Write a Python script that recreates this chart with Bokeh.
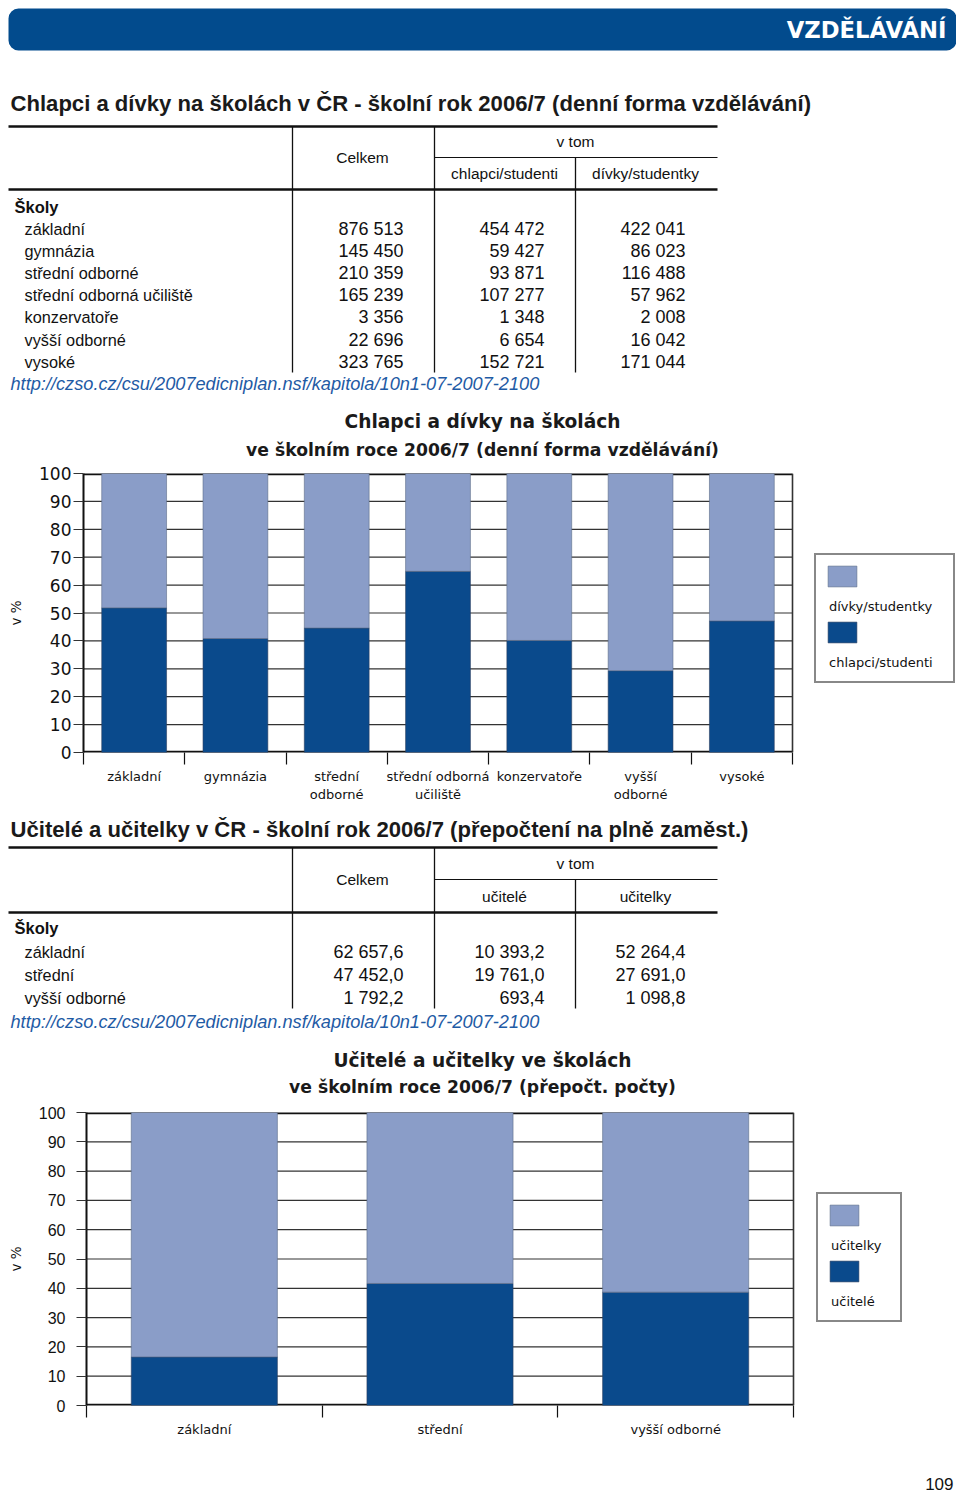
from bokeh.plotting import figure
from bokeh.models import Range1d, FixedTicker, Legend, LegendItem, BoxAnnotation, ColumnDataSource
from bokeh.layouts import column
from bokeh.core.properties import value
from bokeh.embed import file_html
from bokeh.resources import INLINE

# ---------------- data ----------------
schools_students = ["základní", "gymnázia", "střední odborné", "střední odborná učiliště",
                    "konzervatoře", "vyšší odborné", "vysoké"]
students_total = [876513, 145450, 210359, 165239, 3356, 22696, 323765]
students_boys = [454472, 59427, 93871, 107277, 1348, 6654, 152721]
students_girls = [422041, 86023, 116488, 57962, 2008, 16042, 171044]
chart1_labels = ["základní", "gymnázia", "střední\nodborné", "střední odborná\nučiliště",
                 "konzervatoře", "vyšší\nodborné", "vysoké"]

schools_teachers = ["základní", "střední", "vyšší odborné"]
teachers_total = [62657.6, 47452.0, 1792.2]
teachers_men = [10393.2, 19761.0, 693.4]
teachers_women = [52264.4, 27691.0, 1098.8]
chart2_labels = ["základní", "střední", "vyšší odborné"]

y_ticks = [0, 10, 20, 30, 40, 50, 60, 70, 80, 90, 100]

URL = "http://czso.cz/csu/2007edicniplan.nsf/kapitola/10n1-07-2007-2100"

# ---------------- style ----------------
DARK = "#0a4a8c"
LIGHT = "#8a9dc8"
HEADER = "#024b8d"
URLC = "#1f5ba5"
INK = "#111111"
GRIDC = "#333333"
SANS = "Liberation Sans"
DJ = "DejaVu Sans"

W = 956


def fmt_int(v):
    return f"{v:,.0f}".replace(",", " ")


def fmt_dec(v):
    return f"{v:,.1f}".replace(",", " ").replace(".", ",")


def text_fig(top, bottom):
    p = figure(width=W, height=bottom - top, x_range=Range1d(0, W),
               y_range=Range1d(bottom, top), x_axis_type=None, y_axis_type=None,
               toolbar_location=None, output_backend="svg", min_border=0,
               outline_line_color=None, title=None, frame_align=False)
    return p


def T(p, x, y, s, size, font=SANS, align="left", style="normal", color=INK):
    p.text(x=[x], y=[y], text=[s], text_font=value(font), text_font_size=f"{size}px",
           text_align=align, text_baseline="middle", text_font_style=style, text_color=color)


def L(p, x0, y0, x1, y1, w=1.2, color=INK):
    p.segment(x0=[x0], y0=[y0], x1=[x1], y1=[y1], line_width=w, line_color=color)


def table(p, y_top, y_vtom, y_sub, y_subtxt, y_hdr, y_skoly, y_rows, y_vbot, y_url,
          sub_labels, names, tot, a, b, fmt):
    L(p, 8, y_top, 717, y_top, 2.5)
    L(p, 8, y_hdr, 717, y_hdr, 2.5)
    L(p, 292, y_top, 292, y_vbot, 1.3)
    L(p, 434, y_top, 434, y_vbot, 1.3)
    L(p, 434, y_sub, 717, y_sub, 1.2)
    L(p, 575, y_sub, 575, y_vbot, 1.3)
    T(p, 362, y_sub, "Celkem", 15.5, align="center")
    T(p, 575, y_vtom, "v tom", 15.5, align="center")
    T(p, 504, y_subtxt, sub_labels[0], 15.5, align="center")
    T(p, 645, y_subtxt, sub_labels[1], 15.5, align="center")
    T(p, 14, y_skoly, "Školy", 16.5, style="bold")
    for i, name in enumerate(names):
        y = y_rows[i]
        T(p, 24, y, name, 16.3)
        T(p, 403, y, fmt(tot[i]), 18, align="right")
        T(p, 544, y, fmt(a[i]), 18, align="right")
        T(p, 685, y, fmt(b[i]), 18, align="right")
    T(p, 10, y_url, URL, 18.2, style="italic", color=URLC)


def chart(top, bottom, frame_left, frame_top, frame_bottom, chart_right, labels,
          low_pct, bar_w, leg_labels, leg_loc, leg_label_w, tick_font, tick_size, tick_standoff):
    n = len(labels)
    frame_w = W - frame_left
    x_end = n * frame_w / (chart_right - frame_left)
    p = figure(width=W, height=bottom - top, x_range=Range1d(0, x_end), y_range=Range1d(0, 100),
               min_border_left=frame_left, min_border_right=0,
               min_border_top=frame_top - top, min_border_bottom=bottom - frame_bottom,
               toolbar_location=None, output_backend="svg", outline_line_color=None,
               title=None, frame_align=False)
    p.xgrid.visible = False
    p.ygrid.visible = False

    centers = [i + 0.5 for i in range(n)]
    bounds = list(range(n + 1))

    inner = y_ticks[1:-1]
    p.segment(x0=[0] * len(inner), y0=inner, x1=[n] * len(inner), y1=inner,
              line_color=GRIDC, line_width=1.2)
    p.segment(x0=[0, 0], y0=[0, 100], x1=[n, n], y1=[0, 100], line_color=INK, line_width=3.5)
    p.segment(x0=[n], y0=[0], x1=[n], y1=[100], line_color=GRIDC, line_width=1.6)

    src = ColumnDataSource(dict(x=centers, low=low_pct, top=[100] * n))
    dark = p.vbar(x="x", width=bar_w, bottom=0, top="low", source=src,
                  fill_color=DARK, line_color="#2c3e5e", line_width=0.6)
    light = p.vbar(x="x", width=bar_w, bottom="low", top="top", source=src,
                   fill_color=LIGHT, line_color="#5d6b88", line_width=0.6)
    dummy = p.vbar(x=[], width=0.1, top=[], fill_alpha=0, line_alpha=0)

    ya = p.yaxis[0]
    ya.ticker = FixedTicker(ticks=y_ticks)
    ya.major_tick_out = 10
    ya.major_tick_in = 0
    ya.minor_tick_out = 0
    ya.minor_tick_in = 0
    ya.axis_line_width = 2
    ya.axis_line_color = INK
    ya.major_tick_line_width = 1.2
    ya.major_tick_line_color = GRIDC
    ya.major_label_standoff = tick_standoff
    ya.major_label_text_font = tick_font
    ya.major_label_text_font_size = f"{tick_size}px"
    ya.major_label_text_color = INK
    ya.axis_label = "v %"
    ya.axis_label_text_font = DJ
    ya.axis_label_text_font_style = "normal"
    ya.axis_label_text_font_size = "13.5px"
    ya.axis_label_text_color = INK
    ya.axis_label_standoff = 12

    xa = p.xaxis[0]
    xa.ticker = FixedTicker(ticks=centers, minor_ticks=bounds)
    xa.major_label_overrides = {c: lab for c, lab in zip(centers, labels)}
    xa.major_tick_out = 0
    xa.major_tick_in = 0
    xa.minor_tick_out = 12
    xa.minor_tick_in = 0
    xa.minor_tick_line_width = 1.2
    xa.minor_tick_line_color = INK
    xa.axis_line_color = None
    xa.major_label_standoff = 4
    xa.major_label_text_font = DJ
    xa.major_label_text_font_size = "13px"
    xa.major_label_text_color = INK

    common = dict(location=leg_loc, orientation="vertical", glyph_height=26, spacing=2,
                  padding=8, margin=0, label_text_font=DJ, label_text_font_size="13px",
                  label_text_color=INK)
    # swatches + frame
    legend_sw = Legend(items=[
        LegendItem(label=" ", renderers=[light]),
        LegendItem(label=" ", renderers=[dummy]),
        LegendItem(label=" ", renderers=[dark]),
        LegendItem(label=" ", renderers=[dummy]),
    ], glyph_width=36, label_standoff=0, label_width=leg_label_w,
        border_line_color=INK, border_line_width=2, background_fill_color="white",
        background_fill_alpha=1, **common)
    # labels below each swatch (transparent frame so the same padding applies)
    legend_tx = Legend(items=[
        LegendItem(label=" ", renderers=[dummy]),
        LegendItem(label=leg_labels[0], renderers=[dummy]),
        LegendItem(label=" ", renderers=[dummy]),
        LegendItem(label=leg_labels[1], renderers=[dummy]),
    ], glyph_width=0, label_standoff=7, border_line_color="white", border_line_alpha=0,
        background_fill_alpha=0, **common)
    p.add_layout(legend_sw)
    p.add_layout(legend_tx)
    return p


# ---------------- figure 1: header, table 1, chart 1 title ----------------
f1 = text_fig(0, 465)
f1.add_layout(BoxAnnotation(left=8, right=956, top=8, bottom=50, fill_color=HEADER,
                            fill_alpha=1, line_color=None, border_radius=10, level="underlay"))
T(f1, 946, 29.5, "VZDĚLÁVÁNÍ", 22.7, DJ, align="right", style="bold", color="white")
T(f1, 10, 103, "Chlapci a dívky na školách v ČR - školní rok 2006/7 (denní forma vzdělávání)",
  22.1, SANS, style="bold", color="#1a1a1a")
rows1 = [228 + 22.2 * i for i in range(len(schools_students))]
table(f1, 126, 141, 157, 173, 189, 206, rows1, 372, 383,
      ["chlapci/studenti", "dívky/studentky"], schools_students,
      students_total, students_boys, students_girls, fmt_int)
T(f1, 482, 421, "Chlapci a dívky na školách", 18.6, DJ, align="center", style="bold", color="#1a1a1a")
T(f1, 482, 449, "ve školním roce 2006/7 (denní forma vzdělávání)", 17.2, DJ, align="center",
  style="bold", color="#1a1a1a")

# ---------------- figure 2: chart 1 ----------------
boys_pct = [b / t * 100 for b, t in zip(students_boys, students_total)]
f2 = chart(465, 812, 83, 473, 752, 792, chart1_labels, boys_pct, 0.64,
           ["dívky/studentky", "chlapci/studenti"], (731, 69), 85, DJ, 17, 2)

# ---------------- figure 3: table 2, chart 2 title ----------------
f3 = text_fig(812, 1100)
T(f3, 10, 829, "Učitelé a učitelky v ČR - školní rok 2006/7 (přepočtení na plně zaměst.)",
  22.1, SANS, style="bold", color="#1a1a1a")
rows2 = [951 + 23.2 * i for i in range(len(schools_teachers))]
table(f3, 847, 863, 879, 896, 912, 927, rows2, 1008, 1021,
      ["učitelé", "učitelky"], schools_teachers,
      teachers_total, teachers_men, teachers_women, fmt_dec)
T(f3, 482, 1060, "Učitelé a učitelky ve školách", 18.6, DJ, align="center", style="bold", color="#1a1a1a")
T(f3, 482, 1086, "ve školním roce 2006/7 (přepočt. počty)", 17.2, DJ, align="center",
  style="bold", color="#1a1a1a")

# ---------------- figure 4: chart 2 ----------------
men_pct = [m / t * 100 for m, t in zip(teachers_men, teachers_total)]
f4 = chart(1100, 1448, 86, 1112, 1405, 793, chart2_labels, men_pct, 0.62,
           ["učitelky", "učitelé"], (730, 83), 30, SANS, 16, 11)

# ---------------- figure 5: page number ----------------
f5 = text_fig(1448, 1492)
T(f5, 953, 1483, "109", 17, SANS, align="right")

layout = column(f1, f2, f3, f4, f5, spacing=0)
open("out.html", "w").write(file_html(layout, INLINE))
